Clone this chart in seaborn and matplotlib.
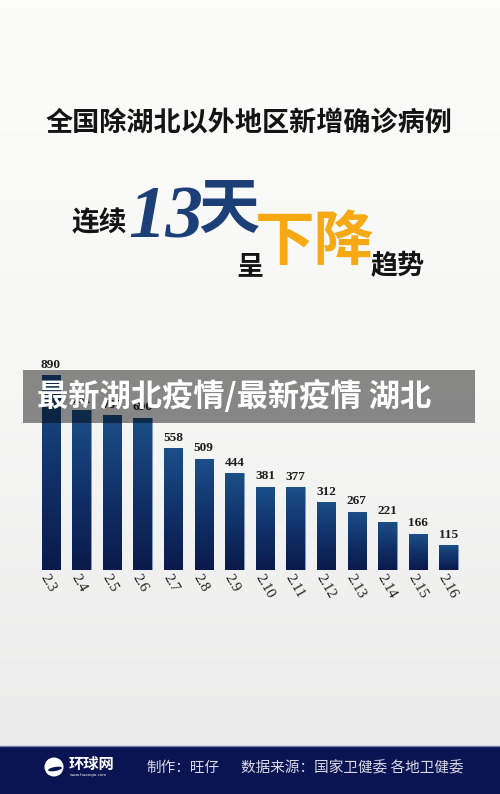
import numpy as np
import pandas as pd
import matplotlib
matplotlib.use('Agg')
import matplotlib.pyplot as plt
import seaborn as sns
from matplotlib.colors import LinearSegmentedColormap
from matplotlib.patches import Rectangle, Circle, Ellipse
from matplotlib.transforms import ScaledTranslation

# data
dates = ['2.3', '2.4', '2.5', '2.6', '2.7', '2.8', '2.9', '2.10',
         '2.11', '2.12', '2.13', '2.14', '2.15', '2.16']
cases = [890, 731, 707, 696, 558, 509, 444, 381, 377, 312, 267, 221, 166, 115]

title = '全国除湖北以外地区新增确诊病例'
overlay_title = '最新湖北疫情/最新疫情 湖北'
credit = '制作：旺仔'
source = '数据来源：国家卫健委 各地卫健委'

sns.set_theme(style='white')
plt.rcParams['font.family'] = ['Noto Sans CJK SC', 'DejaVu Sans']

df = pd.DataFrame({'date': dates, 'cases': cases})

W, H = 500, 794
fig = plt.figure(figsize=(W / 100, H / 100), dpi=100)

# background, light grey gradient
bg = fig.add_axes([0, 0, 1, 1], zorder=-5)
bg_cmap = LinearSegmentedColormap.from_list('bg', ['#fcfcfb', '#f6f6f5', '#eaeaea'])
bg.imshow(np.linspace(0, 1, 256).reshape(-1, 1), cmap=bg_cmap, aspect='auto',
          extent=[0, W, H, 0])
bg.set_xlim(0, W)
bg.set_ylim(H, 0)
bg.axis('off')

# bar chart
bottom_px, top_px = 570, 351
ax = fig.add_axes([35.5 / W, (H - bottom_px) / H, 428.4 / W, (bottom_px - top_px) / H])
ax.patch.set_alpha(0)
sns.barplot(data=df, x='date', y='cases', ax=ax, width=0.6, color='#123a6e',
            edgecolor='#7f9cc4', linewidth=0.6)

bar_cmap = LinearSegmentedColormap.from_list('bar', ['#0a1a4a', '#11326a', '#1c4f88'])
grad = np.linspace(0, 1, 128).reshape(-1, 1)
for p in ax.patches:
    x0, w, h = p.get_x(), p.get_width(), p.get_height()
    im = ax.imshow(grad, cmap=bar_cmap, origin='lower', aspect='auto',
                   extent=[x0, x0 + w, 0, h], zorder=p.get_zorder() + 0.1)
    im.set_clip_path(p)

ax.set_xlim(-0.5, len(dates) - 0.5)
ax.set_ylim(0, 1000)
ax.bar_label(ax.containers[0], padding=3, fontsize=9.5, fontweight='bold',
             family='Liberation Serif', color='#1e1e1e')

ax.set_xlabel('')
ax.set_ylabel('')
ax.set_yticks([])
ax.tick_params(axis='x', length=0, pad=4)
for s in ax.spines.values():
    s.set_visible(False)
ax.set_xticks(range(len(dates)))
ax.set_xticklabels(dates, rotation=-60, ha='left', va='center',
                   rotation_mode='anchor', family='Liberation Serif',
                   fontsize=10.5, color='#1e1e1e')
shift = ScaledTranslation(-5 / 72, 0, fig.dpi_scale_trans)
for lab in ax.get_xticklabels():
    lab.set_transform(lab.get_transform() + shift)

# overlay in pixel coordinates
top = fig.add_axes([0, 0, 1, 1], zorder=10)
top.set_xlim(0, W)
top.set_ylim(H, 0)
top.axis('off')
top.patch.set_alpha(0)

top.text(248.5, 123, title, ha='center', va='center', fontsize=19.5,
         fontweight='bold', color='#141414')
top.text(72, 223, '连续', ha='left', va='center', fontsize=20,
         fontweight='bold', color='#141414')
top.text(128, 238, '13', ha='left', va='baseline', fontsize=54,
         family='Liberation Serif', fontstyle='italic', fontweight='bold',
         color='#1c3f78')
top.text(229, 210, '天', ha='center', va='center', fontsize=44,
         fontweight='bold', color='#1c3f78')
top.text(249.5, 266, '呈', ha='center', va='center', fontsize=19.5,
         fontweight='bold', color='#141414')
top.text(315, 243, '下降', ha='center', va='center', fontsize=43,
         fontweight='bold', color='#f6a912')
top.text(398, 266, '趋势', ha='center', va='center', fontsize=19.5,
         fontweight='bold', color='#141414')

# translucent caption band
top.add_patch(Rectangle((23, 370), 452, 53, facecolor='black', alpha=0.45,
                        edgecolor='none'))
top.text(37, 396, overlay_title, ha='left', va='center', fontsize=22.5,
         fontweight='bold', color='white')

# footer
top.add_patch(Rectangle((0, 746), W, 48, facecolor='#0b1452', edgecolor='none'))
top.plot([0, W], [746, 746], color='#7080a8', lw=1)
top.add_patch(Circle((54, 767), 9.5, facecolor='white', edgecolor='none'))
top.add_patch(Ellipse((55, 769), 14, 4, angle=-10, facecolor='#0b1452',
                      edgecolor='none'))
top.text(69, 764, '环球网', ha='left', va='center', fontsize=11,
         fontweight='bold', color='white')
top.text(70, 775, 'www.huanqiu.com', ha='left', va='center', fontsize=3,
         color='white')
top.text(146, 768, credit, ha='left', va='center', fontsize=10.5, color='#d8dbe6')
top.text(241, 768, source, ha='left', va='center', fontsize=10.5, color='#d8dbe6')

fig.savefig('out.png', dpi=100)
